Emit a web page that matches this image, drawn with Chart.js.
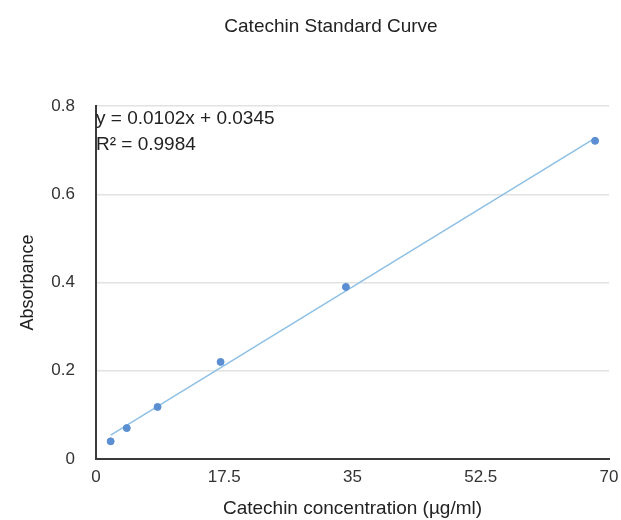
<!DOCTYPE html>
<html>
<head>
<meta charset="utf-8">
<script src="https://cdn.jsdelivr.net/npm/chart.js@4"></script>
<style>
  html, body { margin: 0; padding: 0; background: #fff; }
  #wrap { width: 621px; height: 520px; }
</style>
</head>
<body>
<div id="wrap"><canvas id="curveChart" width="621" height="520"></canvas></div>
<script>
// Catechin standard data
const concentration = [2.0, 4.2, 8.4, 17.0, 34.1, 68.1];
const absorbance = [0.040, 0.070, 0.118, 0.220, 0.390, 0.721];
// Trendline endpoints
const trendX = [2.0, 68.1];
const trendY = [0.054, 0.727];
const xTicks = [0, 17.5, 35, 52.5, 70];
const yTicks = [0, 0.2, 0.4, 0.6, 0.8];
const chartTitle = 'Catechin Standard Curve';
const equationLines = ['y = 0.0102x + 0.0345', 'R\u00b2 = 0.9984'];

const FONT = '"Liberation Sans", Arial, sans-serif';

// Title (sits a little right of centre in the original) and regression text
const annotations = {
    id: 'annotations',
    afterDraw(chart) {
        const ctx = chart.ctx;
        const area = chart.chartArea;
        ctx.save();
        ctx.fillStyle = '#222';
        ctx.textBaseline = 'middle';
        ctx.font = '19px ' + FONT;
        ctx.textAlign = 'center';
        ctx.fillText(chartTitle, 331, 27);
        ctx.textAlign = 'left';
        equationLines.forEach((line, i) => {
            ctx.fillText(line, area.left, area.top + 13 + i * 26);
        });
        ctx.restore();
    }
};

document.addEventListener('DOMContentLoaded', function() {
    const ctx = document.getElementById('curveChart').getContext('2d');
    new Chart(ctx, {
        type: 'scatter',
        data: {
            datasets: [{
                label: 'Trendline',
                data: trendX.map((x, i) => ({ x: x, y: trendY[i] })),
                showLine: true,
                borderColor: '#8dc0e4',
                borderWidth: 1.5,
                pointRadius: 0,
                order: 2
            }, {
                label: 'Absorbance',
                data: concentration.map((x, i) => ({ x: x, y: absorbance[i] })),
                backgroundColor: '#5b8fd2',
                borderColor: '#5b8fd2',
                pointRadius: 3.5,
                order: 1
            }]
        },
        options: {
            responsive: false,
            animation: false,
            layout: { padding: { left: 0, right: 12, top: 106, bottom: 0 } },
            plugins: {
                legend: { display: false },
                tooltip: { enabled: false },
                title: { display: false }
            },
            scales: {
                x: {
                    type: 'linear',
                    min: 0,
                    max: 70,
                    afterBuildTicks: axis => { axis.ticks = xTicks.map(v => ({ value: v })); },
                    afterFit: axis => {
                        axis.height = 61;
                        axis.paddingRight = 0;
                    },
                    grid: { display: false, drawTicks: false },
                    border: { display: true, color: '#3a3a3a', width: 2 },
                    ticks: {
                        color: '#333',
                        padding: 8,
                        font: { family: FONT, size: 17 },
                        maxRotation: 0
                    },
                    title: {
                        display: true,
                        text: 'Catechin concentration (\u00b5g/ml)',
                        color: '#222',
                        font: { family: FONT, size: 19 },
                        padding: { top: 4, bottom: 0 }
                    }
                },
                y: {
                    min: 0,
                    max: 0.8,
                    afterBuildTicks: axis => { axis.ticks = yTicks.map(v => ({ value: v })); },
                    afterFit: axis => {
                        axis.width = 96;
                        axis.paddingTop = 0;
                    },
                    grid: { color: '#e2e2e2', lineWidth: 1.5, drawTicks: false },
                    border: { display: true, color: '#3a3a3a', width: 2 },
                    ticks: {
                        color: '#333',
                        padding: 21,
                        font: { family: FONT, size: 17 },
                        callback: v => v === 0 ? '0' : v.toFixed(1)
                    },
                    title: {
                        display: true,
                        text: 'Absorbance',
                        color: '#222',
                        font: { family: FONT, size: 18 },
                        padding: { top: 17, bottom: 0 }
                    }
                }
            }
        },
        plugins: [annotations]
    });
});
</script>
</body>
</html>
